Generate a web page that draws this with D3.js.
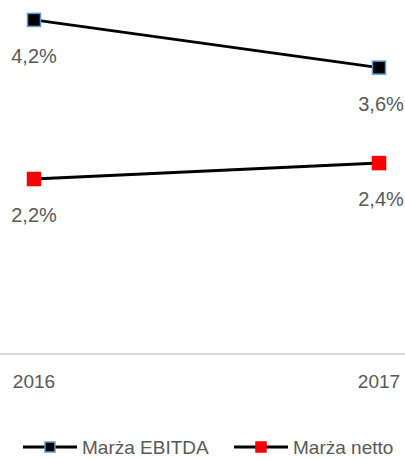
<!DOCTYPE html>
<html>
<head>
<meta charset="utf-8">
<script src="https://cdn.jsdelivr.net/npm/d3@7"></script>
<style>
  body { margin: 0; background: #fff; }
  text { font-family: "Liberation Sans", Arial, sans-serif; fill: #595959; }
</style>
</head>
<body>
<svg id="chart"></svg>
<script>
const years = ["2016", "2017"];
const ebitda = [4.2, 3.6];
const netto = [2.2, 2.4];
const seriesNames = ["Marża EBITDA", "Marża netto"];

const width = 405, height = 459;
const svg = d3.select("#chart").attr("width", width).attr("height", height);

const xScale = d3.scalePoint().domain(years).range([34, 379]);
const yScale = d3.scaleLinear().domain([0, 4.45]).range([354, 0]);

// axis line
svg.append("line")
    .attr("x1", 0).attr("x2", width)
    .attr("y1", yScale(0)).attr("y2", yScale(0))
    .attr("stroke", "#d9d9d9").attr("stroke-width", 2);

// x labels
svg.selectAll(".xlab")
    .data(years)
    .enter()
    .append("text")
    .attr("x", d => xScale(d))
    .attr("y", 388)
    .attr("text-anchor", "middle")
    .style("font-size", "19px")
    .text(d => d);

const series = [
    { name: seriesNames[0], values: ebitda, fill: "#000000", stroke: "#5b9bd5" },
    { name: seriesNames[1], values: netto, fill: "#ff0000", stroke: "#ff0000" }
];

const line = d3.line()
    .x((d, i) => xScale(years[i]))
    .y(d => yScale(d));

series.forEach(s => {
    svg.append("path")
        .datum(s.values)
        .attr("fill", "none")
        .attr("stroke", "#000")
        .attr("stroke-width", 3)
        .attr("d", line);

    svg.selectAll(null)
        .data(s.values)
        .enter()
        .append("rect")
        .attr("x", (d, i) => xScale(years[i]) - 6.5)
        .attr("y", d => yScale(d) - 6.5)
        .attr("width", 13)
        .attr("height", 13)
        .attr("fill", s.fill)
        .attr("stroke", s.stroke)
        .attr("stroke-width", 1.5);

    // data labels below points
    svg.selectAll(null)
        .data(s.values)
        .enter()
        .append("text")
        .attr("x", (d, i) => xScale(years[i]) + (i === 1 ? 2 : 0))
        .attr("y", d => yScale(d) + 43)
        .attr("text-anchor", "middle")
        .style("font-size", "20px")
        .text(d => d.toFixed(1).replace(".", ",") + "%");
});

// legend
const legendX = [23, 234];
series.forEach((s, i) => {
    const g = svg.append("g").attr("transform", `translate(${legendX[i]},447)`);
    g.append("line")
        .attr("x1", 0).attr("x2", 54)
        .attr("y1", 0).attr("y2", 0)
        .attr("stroke", "#000").attr("stroke-width", 3);
    g.append("rect")
        .attr("x", 22).attr("y", -5)
        .attr("width", 10).attr("height", 10)
        .attr("fill", s.fill)
        .attr("stroke", s.stroke)
        .attr("stroke-width", 1.5);
    g.append("text")
        .attr("x", 59)
        .attr("y", 7)
        .style("font-size", "19px")
        .text(s.name);
});
</script>
</body>
</html>
